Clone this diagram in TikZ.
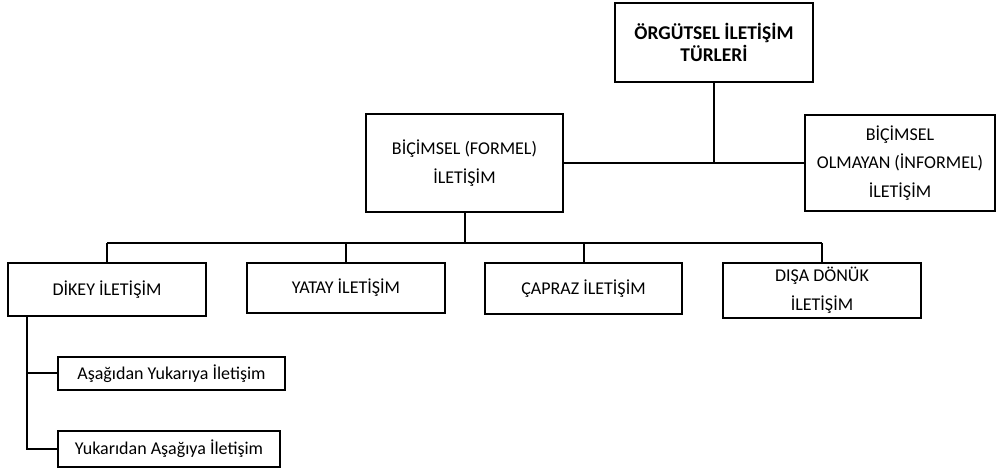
\documentclass[tikz,border=0pt]{standalone}
\usepackage{fontspec}
\setmainfont{Carlito}
\usepackage{tikz}

\begin{document}
\begin{tikzpicture}[x=0.75pt,y=-0.75pt,line width=1.5pt,
	box/.style={draw,align=center,inner sep=0pt,
		font=\fontsize{13.5}{21.5}\selectfont},
	subbox/.style={box,minimum height=#1},
	subbox/.default=25pt]
	\useasboundingbox (0,0) rectangle (997,473);

	\node[box,minimum width=148.5pt,minimum height=59.25pt,
		font=\fontsize{14.6}{16.5}\selectfont\bfseries] (turler) at (714,42.5)
		{ÖRGÜTSEL İLETİŞİM\\TÜRLERİ};
	\node[box,minimum width=147.75pt,minimum height=73.5pt] (formel) at (464.5,163)
		{BİÇİMSEL (FORMEL)\\İLETİŞİM};
	\node[box,minimum width=142.5pt,minimum height=72pt] (informel) at (900,163)
		{BİÇİMSEL\\OLMAYAN (İNFORMEL)\\İLETİŞİM};

	\node[box,minimum width=148.5pt,minimum height=39.75pt] (dikey) at (107,289.5)
		{DİKEY İLETİŞİM};
	\node[box,minimum width=148.5pt,minimum height=37.5pt] (yatay) at (346,288)
		{YATAY İLETİŞİM};
	\node[box,minimum width=147.75pt,minimum height=38.25pt] (capraz) at (583.5,288.5)
		{ÇAPRAZ İLETİŞİM};
	\node[box,minimum width=148.5pt,minimum height=41.25pt] (disa) at (822,290.5)
		{DIŞA DÖNÜK\\İLETİŞİM};

	\node[subbox=24.75pt,minimum width=170.25pt] (asagidan) at (171.5,373.5)
		{Aşağıdan Yukarıya İletişim};
	\node[subbox=27pt,minimum width=166.5pt] (yukaridan) at (169,449)
		{Yukarıdan Aşağıya İletişim};

	% upper level
	\draw (turler.south) -- (turler.south |- informel.west);
	\draw (formel.east) -- (informel.west);

	% second level
	\coordinate (bar) at (0,243);
	\draw (formel.south) -- (formel.south |- bar);
	\draw (dikey.north |- bar) -- (disa.north |- bar);
	\foreach \n in {dikey,yatay,capraz,disa}
		\draw (\n.north |- bar) -- (\n.north);

	% vertical communication
	\draw ([xshift=15pt]dikey.south west) |- (asagidan.west);
	\draw ([xshift=15pt]dikey.south west) |- (yukaridan.west);
\end{tikzpicture}
\end{document}
